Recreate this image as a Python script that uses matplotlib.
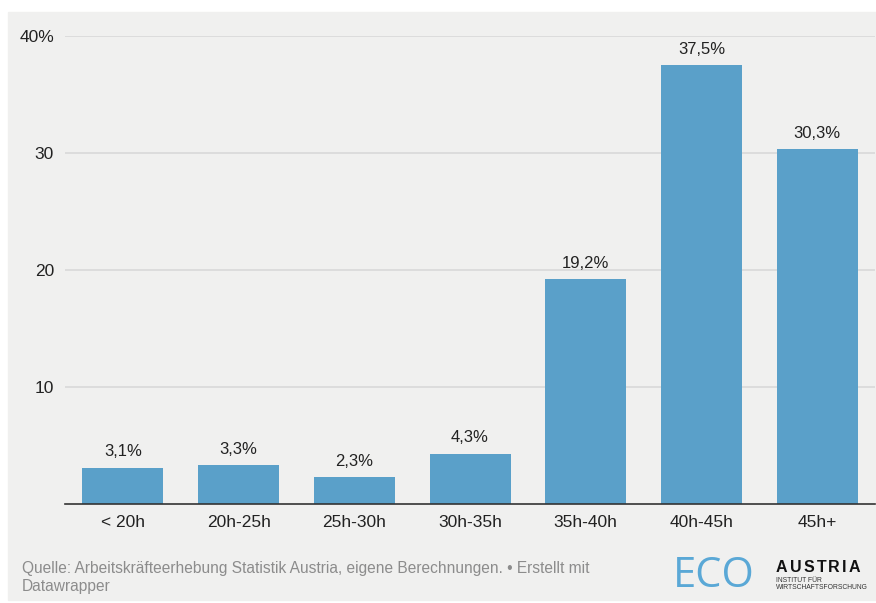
import matplotlib.pyplot as plt
from matplotlib.patches import Rectangle

categories = ['< 20h', '20h-25h', '25h-30h', '30h-35h', '35h-40h', '40h-45h', '45h+']
values = [3.1, 3.3, 2.3, 4.3, 19.2, 37.5, 30.3]
yticks = [10, 20, 30, 40]
ytick_labels = ['10', '20', '30', '40%']

plt.rcParams['font.family'] = ['Liberation Sans', 'DejaVu Sans']

W, H = 876, 603
fig = plt.figure(figsize=(W / 100, H / 100), dpi=100)
fig.patch.set_facecolor('white')
bg = '#f0f0ef'
fig.patches.append(Rectangle((8 / W, 3 / H), 1 - 8 / W, (H - 15) / H,
                             transform=fig.transFigure, color=bg, zorder=-10))

ax = fig.add_axes([65 / W, (H - 504) / H, 810 / W, 468 / H])
ax.set_facecolor('none')

x = range(len(categories))
ax.bar(x, values, width=0.7, color='#5aa0c9', zorder=3)
for xi, v in zip(x, values):
    ax.annotate(f'{v:.1f}%'.replace('.', ','), (xi, v), xytext=(0, 6),
                textcoords='offset points', ha='center', va='bottom',
                fontsize=12, color='#222222')

ax.set_xlim(-0.5, 6.5)
ax.set_ylim(0, 40)
ax.set_xticks(list(x))
ax.set_xticklabels(categories, fontsize=12.5, color='#222222')
ax.set_yticks(yticks)
ax.set_yticklabels(ytick_labels, fontsize=12.5, color='#222222')
ax.tick_params(axis='both', length=0)
ax.tick_params(axis='x', pad=8)
ax.tick_params(axis='y', pad=8)
ax.grid(axis='y', color='#d9d9d9', linewidth=1.2, zorder=0)
for s in ['top', 'right', 'left']:
    ax.spines[s].set_visible(False)
ax.spines['bottom'].set_color('#333333')
ax.spines['bottom'].set_linewidth(1.2)
ax.spines['bottom'].set_zorder(4)

# footer
fig.text(22 / W, 1 - 578 / H,
         'Quelle: Arbeitskräfteerhebung Statistik Austria, eigene Berechnungen. • Erstellt mit\nDatawrapper',
         fontsize=11.2, color='#8c8c8c', va='center', ha='left', linespacing=1.25)

# logo
fig.text(673 / W, 1 - 576 / H, 'ECO', fontsize=30, color='#5aa8d6', fontweight='normal',
         family='Open Sans', va='center', ha='left')
# letter-spaced "AUSTRIA"
fig.canvas.draw()
renderer = fig.canvas.get_renderer()
px = 776
for ch in 'AUSTRIA':
    t = fig.text(px / W, 1 - 567 / H, ch, fontsize=11.5, color='#111111',
                 fontweight='bold', va='center', ha='left')
    px += t.get_window_extent(renderer).width + 2.2
fig.text(776 / W, 1 - 584 / H, 'INSTITUT FÜR\nWIRTSCHAFTSFORSCHUNG', fontsize=4.9,
         color='#333333', va='center', ha='left', linespacing=1.15)

fig.savefig('out.png', dpi=100, facecolor=fig.get_facecolor())
